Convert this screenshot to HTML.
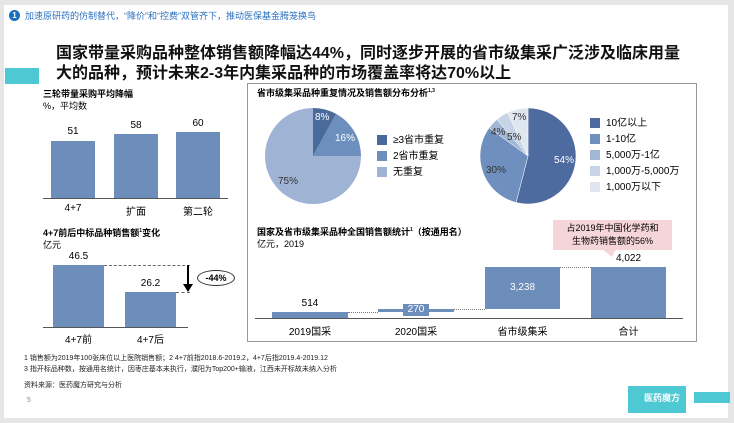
<!DOCTYPE html>
<html><head><meta charset="utf-8"><style>
body{margin:0;width:734px;height:423px;background:#e6e6e6;font-family:"Liberation Sans","Noto Sans CJK SC",sans-serif;position:relative;overflow:hidden}
.p{position:absolute;background:#fff;left:4px;top:5px;width:724px;height:413px}
.a{position:absolute;white-space:nowrap}
.b{position:absolute;background:#6d8dbb}
</style></head><body>
<div class="p"></div>
<div class="a" style="left:9px;top:10px;width:11px;height:11px;border-radius:50%;background:#1a6fc0;color:#fff;font-size:8px;text-align:center;line-height:11px;font-weight:bold">1</div>
<div class="a" style="left:25px;top:9px;font-size:9px;color:#2a6fc0">加速原研药的仿制替代，“降价”和“控费”双管齐下，推动医保基金腾笼换鸟</div>
<div class="a" style="left:5px;top:68px;width:34px;height:16px;background:#4ec9d3"></div>
<div class="a" style="left:56px;top:44px;font-size:16px;font-weight:bold;color:#111;line-height:20px">国家带量采购品种整体销售额降幅达44%，同时逐步开展的省市级集采广泛涉及临床用量<br>大的品种，预计未来2-3年内集采品种的市场覆盖率将达70%以上</div>

<!-- left top chart -->
<div class="a" style="left:43px;top:87px;font-size:9px;font-weight:bold">三轮带量采购平均降幅</div>
<div class="a" style="left:43px;top:99px;font-size:9px">%，平均数</div>
<div class="b" style="left:51px;top:141px;width:44px;height:57px"></div>
<div class="b" style="left:114px;top:134px;width:44px;height:64px"></div>
<div class="b" style="left:176px;top:132px;width:44px;height:66px"></div>
<div class="a" style="left:43px;top:198px;width:185px;height:1px;background:#555"></div>
<div class="a" style="left:51px;top:126px;width:44px;text-align:center;font-size:10px">51</div>
<div class="a" style="left:114px;top:120px;width:44px;text-align:center;font-size:10px">58</div>
<div class="a" style="left:176px;top:118px;width:44px;text-align:center;font-size:10px">60</div>
<div class="a" style="left:51px;top:203px;width:44px;text-align:center;font-size:10px">4+7</div>
<div class="a" style="left:114px;top:203px;width:44px;text-align:center;font-size:10px">扩面</div>
<div class="a" style="left:176px;top:203px;width:44px;text-align:center;font-size:10px">第二轮</div>

<!-- left bottom chart -->
<div class="a" style="left:43px;top:226px;font-size:9px;font-weight:bold">4+7前后中标品种销售额<sup style="font-size:5px">1</sup>变化</div>
<div class="a" style="left:43px;top:238px;font-size:9px">亿元</div>
<div class="b" style="left:53px;top:265px;width:51px;height:62px"></div>
<div class="b" style="left:125px;top:292px;width:51px;height:35px"></div>
<div class="a" style="left:43px;top:327px;width:145px;height:1px;background:#555"></div>
<div class="a" style="left:53px;top:251px;width:51px;text-align:center;font-size:10px">46.5</div>
<div class="a" style="left:125px;top:278px;width:51px;text-align:center;font-size:10px">26.2</div>
<div class="a" style="left:53px;top:331px;width:51px;text-align:center;font-size:10px">4+7前</div>
<div class="a" style="left:125px;top:331px;width:51px;text-align:center;font-size:10px">4+7后</div>
<div class="a" style="left:104px;top:265px;width:86px;border-top:1px dashed #666"></div>
<div class="a" style="left:176px;top:292px;width:14px;border-top:1px dashed #666"></div>
<svg class="a" style="left:180px;top:264px" width="16" height="30"><line x1="8" y1="1" x2="8" y2="22" stroke="#000" stroke-width="2"/><polygon points="3,20 13,20 8,28" fill="#000"/></svg>
<div class="a" style="left:197px;top:270px;width:36px;height:14px;border:1px solid #333;border-radius:50%;font-size:9px;font-weight:bold;text-align:center;line-height:14px">-44%</div>

<!-- right box -->
<div class="a" style="left:247px;top:83px;width:448px;height:257px;border:1px solid #999"></div>
<div class="a" style="left:257px;top:86px;font-size:9px;font-weight:bold">省市级集采品种重复情况及销售额分布分析<sup style="font-size:5px">1,3</sup></div>
<svg class="a" style="left:0;top:0" width="734" height="423">
<g transform="translate(313,156)">
<path d="M0,0 L0,-48 A48,48 0 0 1 23.1,-42.1 Z" fill="#4a6a9c"/>
<path d="M0,0 L23.1,-42.1 A48,48 0 0 1 48,0 Z" fill="#6d8fbd"/>
<path d="M0,0 L48,0 A48,48 0 1 1 0,-48 Z" fill="#9fb4d4"/>
</g>
<g transform="translate(528,156)" stroke="#fff" stroke-width="0.5">
<path d="M0,0 L0,-48 A48,48 0 1 1 -11.9,46.5 Z" fill="#4d6b9f"/>
<path d="M0,0 L-11.9,46.5 A48,48 0 0 1 -38.8,-28.2 Z" fill="#6f8fbf"/>
<path d="M0,0 L-38.8,-28.2 A48,48 0 0 1 -31.2,-36.5 Z" fill="#a2b6d6"/>
<path d="M0,0 L-31.2,-36.5 A48,48 0 0 1 -20.4,-43.4 Z" fill="#c7d3e6"/>
<path d="M0,0 L-20.4,-43.4 A48,48 0 0 1 0,-48 Z" fill="#e0e6f0"/>
</g>
</svg>
<div class="a" style="left:315px;top:112px;font-size:10px;color:#fff">8%</div>
<div class="a" style="left:335px;top:133px;font-size:10px;color:#fff">16%</div>
<div class="a" style="left:278px;top:176px;font-size:10px;color:#333">75%</div>
<div class="a" style="left:554px;top:155px;font-size:10px;color:#fff">54%</div>
<div class="a" style="left:486px;top:165px;font-size:10px;color:#333">30%</div>
<div class="a" style="left:491px;top:127px;font-size:10px;color:#333">4%</div>
<div class="a" style="left:507px;top:132px;font-size:10px;color:#333">5%</div>
<div class="a" style="left:512px;top:112px;font-size:10px;color:#333">7%</div>
<div class="a" style="left:377px;top:135px;width:10px;height:10px;background:#4a6a9c"></div>
<div class="a" style="left:377px;top:151px;width:10px;height:10px;background:#6d8fbd"></div>
<div class="a" style="left:377px;top:167px;width:10px;height:10px;background:#9fb4d4"></div>
<div class="a" style="left:393px;top:133px;font-size:10px;line-height:16px">≥3省市重复<br>2省市重复<br>无重复</div>
<div class="a" style="left:590px;top:118px;width:10px;height:10px;background:#4d6b9f"></div>
<div class="a" style="left:590px;top:134px;width:10px;height:10px;background:#6f8fbf"></div>
<div class="a" style="left:590px;top:150px;width:10px;height:10px;background:#a2b6d6"></div>
<div class="a" style="left:590px;top:166px;width:10px;height:10px;background:#c7d3e6"></div>
<div class="a" style="left:590px;top:182px;width:10px;height:10px;background:#e0e6f0"></div>
<div class="a" style="left:606px;top:116px;font-size:10px;line-height:16px">10亿以上<br>1-10亿<br>5,000万-1亿<br>1,000万-5,000万<br>1,000万以下</div>

<!-- waterfall -->
<div class="a" style="left:257px;top:225px;font-size:9px;font-weight:bold">国家及省市级集采品种全国销售额统计<sup style="font-size:5px">1</sup>（按通用名）</div>
<div class="a" style="left:257px;top:237px;font-size:9px">亿元，2019</div>
<div class="a" style="left:553px;top:220px;width:119px;height:30px;background:#f5d5d8;font-size:9px;text-align:center;line-height:13px;padding-top:2px;box-sizing:border-box">占2019年中国化学药和<br>生物药销售额的56%</div>
<svg class="a" style="left:600px;top:249px" width="20" height="10"><polygon points="2,0 16,0 12,8" fill="#f5d5d8"/></svg>
<div class="b" style="left:272px;top:312px;width:76px;height:6px"></div>
<div class="b" style="left:378px;top:309px;width:76px;height:3px"></div>
<div class="b" style="left:485px;top:267px;width:75px;height:42px"></div>
<div class="b" style="left:591px;top:267px;width:75px;height:51px"></div>
<div class="a" style="left:255px;top:318px;width:428px;height:1px;background:#555"></div>
<div class="a" style="left:348px;top:312px;width:30px;border-top:1px dotted #777"></div>
<div class="a" style="left:454px;top:309px;width:31px;border-top:1px dotted #777"></div>
<div class="a" style="left:560px;top:267px;width:31px;border-top:1px dotted #777"></div>
<div class="a" style="left:272px;top:298px;width:76px;text-align:center;font-size:10px">514</div>
<div class="a" style="left:403px;top:304px;width:26px;height:12px;background:#6d8dbb;color:#fff;text-align:center;font-size:10px;line-height:12px">270</div>
<div class="a" style="left:485px;top:282px;width:75px;text-align:center;font-size:10px;color:#fff">3,238</div>
<div class="a" style="left:591px;top:253px;width:75px;text-align:center;font-size:10px">4,022</div>
<div class="a" style="left:272px;top:323px;width:76px;text-align:center;font-size:10px">2019国采</div>
<div class="a" style="left:378px;top:323px;width:76px;text-align:center;font-size:10px">2020国采</div>
<div class="a" style="left:485px;top:323px;width:75px;text-align:center;font-size:10px">省市级集采</div>
<div class="a" style="left:591px;top:323px;width:75px;text-align:center;font-size:10px">合计</div>

<!-- footnotes -->
<div class="a" style="left:24px;top:354px;font-size:7px;line-height:10.5px;color:#222">1 销售额为2019年100张床位以上医院销售额；2 4+7前指2018.6-2019.2，4+7后指2019.4-2019.12<br>3 指开标品种数，按通用名统计，因枣庄基本未执行，濮阳为Top200+输液，江西未开标故未纳入分析</div>
<div class="a" style="left:24px;top:380px;font-size:7px;color:#222">资料来源：医药魔方研究与分析</div>
<div class="a" style="left:27px;top:397px;font-size:7px;color:#888">5</div>
<div class="a" style="left:628px;top:386px;width:58px;height:27px;background:#4ec9d3;color:#fff;font-size:9px;font-weight:bold;line-height:24px;text-align:right;padding-right:6px;box-sizing:border-box">医药魔方</div>
<div class="a" style="left:694px;top:392px;width:36px;height:11px;background:#4ec9d3"></div>
</body></html>
